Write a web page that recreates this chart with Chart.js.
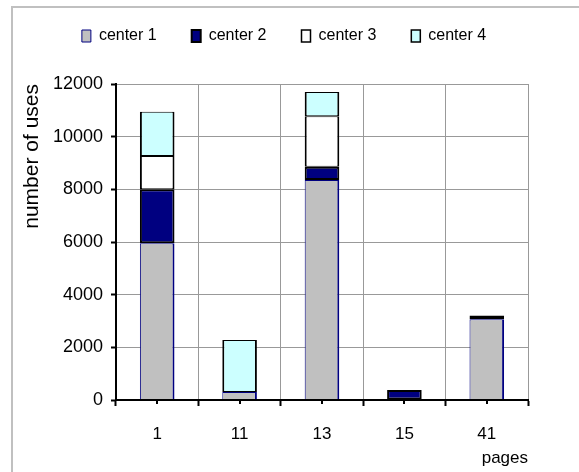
<!DOCTYPE html>
<html>
<head>
<meta charset="utf-8">
<script src="https://cdn.jsdelivr.net/npm/chart.js@4.4.1/dist/chart.umd.min.js"></script>
<style>
  html, body { margin: 0; padding: 0; background: #fff; overflow: hidden; }
  #frame {
    position: absolute; left: 11px; top: 6px; width: 620px; height: 520px;
    border-left: 2px solid #c0c0c0; border-top: 2px solid #c0c0c0;
  }
  #chart { position: absolute; left: 0; top: 0; }
</style>
</head>
<body>
<div id="frame"></div>
<canvas id="chart" width="579" height="472"></canvas>
<script>
// values
const pages = ["1", "11", "13", "15", "41"];
const center1 = [5950, 300, 8350, 0, 3070];
const center2 = [2050, 0, 510, 380, 140];
const center3 = [1270, 0, 1920, 0, 0];
const center4 = [1680, 1980, 920, 0, 0];
const yTicks = [0, 2000, 4000, 6000, 8000, 10000, 12000];

const FONT = "'Liberation Sans', Arial, sans-serif";

// legend sits higher than the plot top, so pad its box and nudge it
const legendSpace = {
  id: "legendSpace",
  afterInit(chart) {
    const fit = chart.legend.fit;
    chart.legend.fit = function () {
      fit.call(this);
      this.height += 23;
    };
  },
  afterLayout(chart) {
    chart.legend.left += 10;
    chart.legend.right += 10;
    chart.legend.top -= 7;
  }
};

// short tick marks under each category
const centerTicks = {
  id: "centerTicks",
  afterDraw(chart) {
    const x = chart.scales.x;
    const ctx = chart.ctx;
    ctx.save();
    ctx.strokeStyle = "#000";
    ctx.lineWidth = 2;
    pages.forEach((p, i) => {
      const px = Math.round(x.getPixelForValue(i));
      ctx.beginPath();
      ctx.moveTo(px, x.top);
      ctx.lineTo(px, x.top + 4);
      ctx.stroke();
    });
    ctx.restore();
  }
};

const barOpts = { barPercentage: 0.42, categoryPercentage: 1 };
const segBorder = { left: 2, right: 2, top: 1, bottom: 1 };

new Chart(document.getElementById("chart"), {
  type: "bar",
  data: {
    labels: pages,
    datasets: [
      { label: "center 1", data: center1, backgroundColor: "#c0c0c0", borderColor: "#000080",
        borderWidth: { left: 1, right: 2, top: 1, bottom: 0 }, borderSkipped: false, ...barOpts },
      { label: "center 2", data: center2, backgroundColor: "#000080", borderColor: "#000",
        borderWidth: 2, borderSkipped: false, ...barOpts },
      { label: "center 3", data: center3, backgroundColor: "#ffffff", borderColor: "#000",
        borderWidth: segBorder, borderSkipped: false, ...barOpts },
      { label: "center 4", data: center4, backgroundColor: "#ccffff", borderColor: "#000",
        borderWidth: segBorder, borderSkipped: false, ...barOpts }
    ]
  },
  options: {
    responsive: false,
    animation: false,
    layout: { padding: { left: 20, right: 51, top: 0, bottom: 3 } },
    plugins: {
      tooltip: { enabled: false },
      legend: {
        position: "top",
        labels: {
          color: "#000",
          font: { family: FONT, size: 16 },
          boxWidth: 9,
          boxHeight: 12,
          padding: 35
        }
      }
    },
    scales: {
      x: {
        stacked: true,
        grid: { offset: true, color: "#999", tickColor: "#000", tickLength: 6, tickWidth: 2 },
        border: { color: "#000", width: 2, z: 1 },
        ticks: { color: "#000", font: { family: FONT, size: 17 }, padding: 18 },
        title: { display: true, text: "pages", align: "end", color: "#000",
                 font: { family: FONT, size: 17 }, padding: 0 },
        afterFit(scale) { scale.height = 69; }
      },
      y: {
        stacked: true,
        min: 0,
        max: 12000,
        grid: { color: "#999", tickColor: "#000", tickLength: 5, tickWidth: 2 },
        border: { color: "#000", width: 2, z: 1 },
        ticks: { color: "#000", font: { family: FONT, size: 18 }, padding: 8,
                 callback: (v) => String(v) },
        afterBuildTicks(scale) { scale.ticks = yTicks.map((v) => ({ value: v })); },
        title: { display: true, text: "number of uses", align: "end", color: "#000",
                 font: { family: FONT, size: 21 }, padding: 0 },
        afterFit(scale) { scale.width = 96; }
      }
    }
  },
  plugins: [legendSpace, centerTicks]
});
</script>
</body>
</html>
